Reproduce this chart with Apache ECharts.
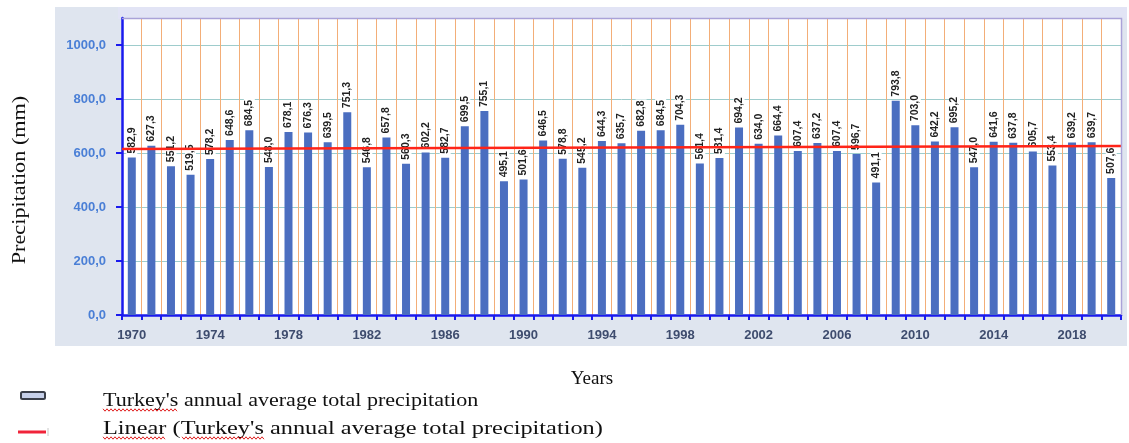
<!DOCTYPE html>
<html>
<head>
<meta charset="utf-8">
<script src="https://cdn.jsdelivr.net/npm/echarts@6/dist/echarts.min.js"></script>
<style>
  html, body { margin: 0; padding: 0; background: #ffffff; }
  #chart { width: 1129px; height: 443px; }
</style>
</head>
<body>
<div id="chart"></div>
<script>
// Annual average total precipitation for Turkey, 1970-2020 (mm)
const years = [];
for (let y = 1970; y <= 2020; y++) years.push(String(y));

const precipitation = [
  582.9, 627.3, 551.2, 519.5, 578.2, 648.6, 684.5, 548.0, 678.1, 676.3,
  639.5, 751.3, 546.8, 657.8, 560.3, 602.2, 582.7, 699.5, 755.1, 495.1,
  501.6, 646.5, 578.8, 545.2, 644.3, 635.7, 682.8, 684.5, 704.3, 561.4,
  581.4, 694.2, 634.0, 664.4, 607.4, 637.2, 607.4, 596.7, 491.1, 793.8,
  703.0, 642.2, 695.2, 547.0, 641.6, 637.8, 605.7, 553.4, 639.2, 639.7,
  507.6
];

// Linear trend line end points (left and right edge of the plot)
const trendStart = 615;
const trendEnd = 626;

const barName = "Turkey's annual average total precipitation";
const trendName = "Linear (Turkey's annual average total precipitation)";

const fmt = v => Number(v).toFixed(1).replace('.', ',');

const serif = "'Liberation Serif', 'Times New Roman', serif";
const sans = "'Liberation Sans', Arial, sans-serif";

// red wavy "spell-check" underline
function wavy(x0, x1, y) {
  const pts = [];
  let up = true;
  for (let x = x0; x <= x1; x += 2) { pts.push([x, up ? y - 1.2 : y + 1.2]); up = !up; }
  return pts;
}

const chart = echarts.init(document.getElementById('chart'), null, { renderer: 'canvas' });

chart.setOption({
  animation: false,
  backgroundColor: '#ffffff',
  grid: { left: 122, right: 8, top: 18, bottom: 128, containLabel: false },
  graphic: [
    // chart area background
    { type: 'rect', z: -10, shape: { x: 55, y: 7, width: 1072, height: 339 },
      style: { fill: '#dfe5ef' } },
    { type: 'rect', z: -9, shape: { x: 118, y: 7, width: 1009, height: 12 },
      style: { fill: '#e2e4f5' } },
    { type: 'rect', z: -8, shape: { x: 122, y: 18, width: 999, height: 297 },
      style: { fill: '#ffffff' } },
    // plot border (top, right)
    { type: 'polyline', z: 20, shape: { points: [[122, 18.5], [1121.5, 18.5], [1121.5, 315]] },
      style: { stroke: '#aaa2d8', lineWidth: 1.5, fill: null } },
    // axis titles
    { type: 'text', z: 20, x: 20, y: 180, rotation: Math.PI / 2, scaleX: 1.17,
      style: { text: 'Precipitation (mm)', font: '19px ' + serif, fill: '#111',
               align: 'center', verticalAlign: 'middle' } },
    { type: 'text', z: 20, x: 592, y: 379,
      style: { text: 'Years', font: '19px ' + serif, fill: '#111',
               align: 'center', verticalAlign: 'middle' } },
    // legend
    { type: 'rect', z: 20, shape: { x: 21, y: 392, width: 24, height: 7, r: 1.5 },
      style: { fill: '#c6d0ea', stroke: '#3a3f4a', lineWidth: 2 } },
    { type: 'text', z: 20, x: 103, y: 401, scaleX: 1.16,
      style: { text: barName, font: '19px ' + serif, fill: '#111', verticalAlign: 'middle' } },
    { type: 'line', z: 20, shape: { x1: 18, y1: 432, x2: 46, y2: 432 },
      style: { stroke: '#f0243a', lineWidth: 3 } },
    { type: 'line', z: 20, shape: { x1: 48, y1: 428, x2: 48, y2: 436 },
      style: { stroke: '#c8c8c8', lineWidth: 1 } },
    { type: 'text', z: 20, x: 103, y: 429, scaleX: 1.28,
      style: { text: trendName, font: '19px ' + serif, fill: '#111', verticalAlign: 'middle' } },
    { type: 'polyline', z: 21, shape: { points: wavy(103, 178, 410) },
      style: { stroke: '#e02020', lineWidth: 1, fill: null } },
    { type: 'polyline', z: 21, shape: { points: wavy(103, 165, 438) },
      style: { stroke: '#e02020', lineWidth: 1, fill: null } },
    { type: 'polyline', z: 21, shape: { points: wavy(182, 265, 438) },
      style: { stroke: '#e02020', lineWidth: 1, fill: null } }
  ],
  xAxis: [
    {
      type: 'category',
      data: years,
      boundaryGap: true,
      axisLine: { lineStyle: { color: '#1a1aee', width: 2.5 } },
      axisTick: { show: true, interval: 0, length: 5, inside: false,
                  lineStyle: { color: '#1a1aee', width: 2 } },
      axisLabel: { interval: 3, margin: 14, color: '#3e4c6e', fontFamily: sans,
                   fontWeight: 'bold', fontSize: 13 },
      splitLine: { show: true, interval: 0, lineStyle: { color: '#f3ae78', width: 1 } }
    },
    {
      type: 'value', min: 0, max: years.length, show: false
    }
  ],
  yAxis: {
    type: 'value',
    min: 0,
    max: 1100,
    interval: 200,
    axisLine: { show: true, lineStyle: { color: '#1a1aee', width: 2.5 } },
    axisTick: { show: true, length: 6, lineStyle: { color: '#1a1aee', width: 2 } },
    axisLabel: { color: '#4a7fd6', fontFamily: sans, fontWeight: 'bold', fontSize: 13,
                 margin: 16, showMaxLabel: false, formatter: fmt },
    splitLine: { show: true, lineStyle: { color: '#9ecccc', width: 1 } }
  },
  series: [
    {
      name: barName,
      type: 'bar',
      data: precipitation,
      barWidth: 8,
      itemStyle: { color: '#4b6ec0' },
      z: 2,
      label: {
        show: true,
        position: 'top',
        rotate: 90,
        align: 'left',
        verticalAlign: 'middle',
        distance: 3,
        formatter: p => fmt(p.value),
        fontFamily: sans,
        fontWeight: 'bold',
        fontSize: 10.5,
        color: '#222222',
        backgroundColor: '#ffffff',
        padding: [0, 1]
      }
    },
    {
      name: trendName,
      type: 'line',
      xAxisIndex: 1,
      data: [[0, trendStart], [years.length, trendEnd]],
      symbol: 'none',
      z: 5,
      lineStyle: { color: '#ff2418', width: 2.5 }
    }
  ]
});
</script>
</body>
</html>
